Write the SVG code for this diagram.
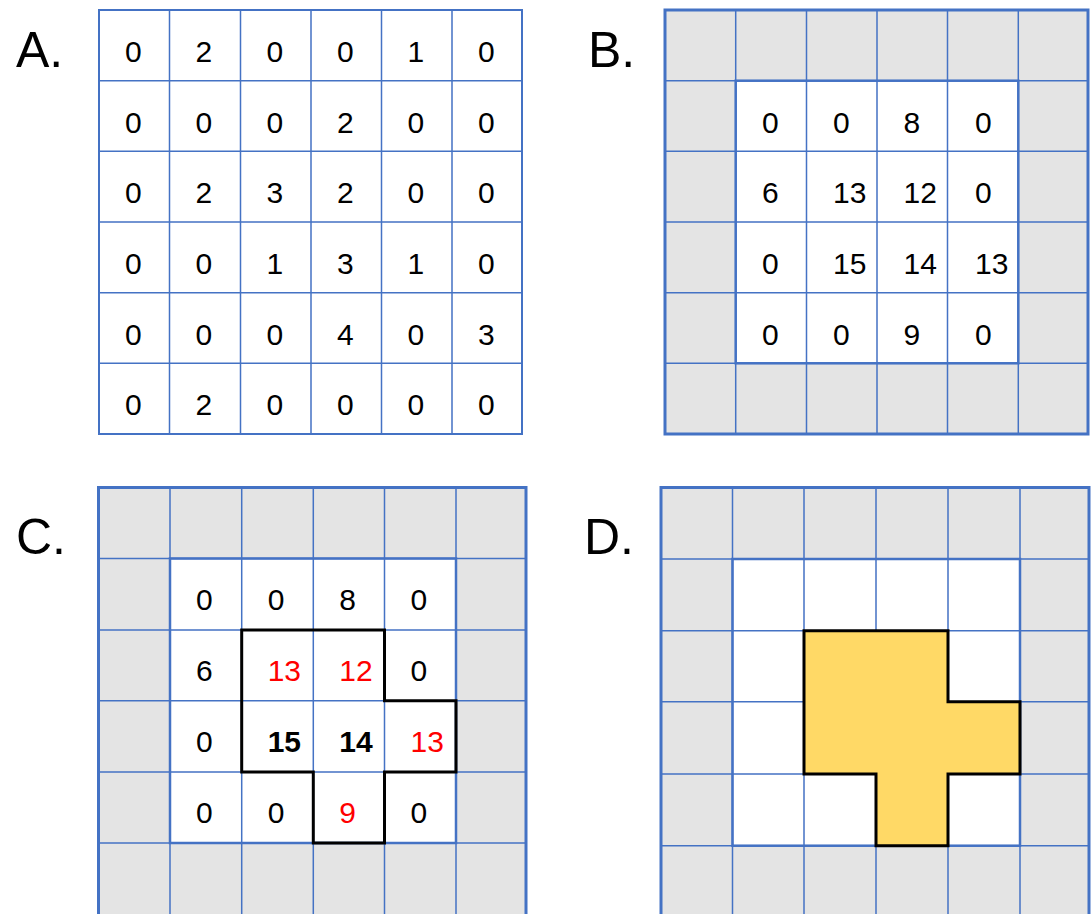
<svg xmlns="http://www.w3.org/2000/svg" width="1092" height="914" viewBox="0 0 1092 914">
<style>
.bg{fill:#ffffff}
.gray{fill:#e4e4e4}
.white{fill:#ffffff}
.grid{stroke:#4472c4;stroke-width:1.5;fill:none}
.outer{stroke:#4472c4;stroke-width:3;fill:none}
.inner{stroke:#4472c4;stroke-width:2.5;fill:none}
.lbl{font-family:"Liberation Sans",Arial,sans-serif;font-size:50px;fill:#000}
.n{font-family:"Liberation Sans",Arial,sans-serif;font-size:30px;fill:#000}
.r{fill:#ff0000}
.b{font-weight:bold}
.shape{stroke:#000;stroke-width:3;stroke-linejoin:miter}
</style>
<rect class="bg" x="0" y="0" width="1092" height="914"/>

<g id="panelA">
<text class="lbl" x="16" y="67">A.</text>
<path class="grid" d="M169.5 10V434M240.5 10V434M311 10V434M381.5 10V434M452 10V434M99 80.7H522M99 151.3H522M99 222H522M99 292.7H522M99 363.3H522"/>
<rect x="99" y="10" width="423" height="424" fill="none" stroke="#4472c4" stroke-width="2"/>
<g class="n">
<text x="125" y="62">0</text><text x="195.5" y="62">2</text><text x="266.5" y="62">0</text><text x="337" y="62">0</text><text x="407.5" y="62">1</text><text x="478" y="62">0</text>
<text x="125" y="132.7">0</text><text x="195.5" y="132.7">0</text><text x="266.5" y="132.7">0</text><text x="337" y="132.7">2</text><text x="407.5" y="132.7">0</text><text x="478" y="132.7">0</text>
<text x="125" y="203.3">0</text><text x="195.5" y="203.3">2</text><text x="266.5" y="203.3">3</text><text x="337" y="203.3">2</text><text x="407.5" y="203.3">0</text><text x="478" y="203.3">0</text>
<text x="125" y="274">0</text><text x="195.5" y="274">0</text><text x="266.5" y="274">1</text><text x="337" y="274">3</text><text x="407.5" y="274">1</text><text x="478" y="274">0</text>
<text x="125" y="344.7">0</text><text x="195.5" y="344.7">0</text><text x="266.5" y="344.7">0</text><text x="337" y="344.7">4</text><text x="407.5" y="344.7">0</text><text x="478" y="344.7">3</text>
<text x="125" y="415.3">0</text><text x="195.5" y="415.3">2</text><text x="266.5" y="415.3">0</text><text x="337" y="415.3">0</text><text x="407.5" y="415.3">0</text><text x="478" y="415.3">0</text>
</g>
</g>

<g id="panelB">
<text class="lbl" x="588" y="67">B.</text>
<rect class="gray" x="665" y="10" width="423" height="424"/>
<rect class="white" x="735.7" y="80.7" width="282.6" height="282.6"/>
<path class="grid" d="M735.7 10V434M806.5 10V434M877 10V434M947.5 10V434M1018.3 10V434M665 80.7H1088M665 151.3H1088M665 222H1088M665 292.7H1088M665 363.3H1088"/>
<rect class="inner" x="735.7" y="80.7" width="282.6" height="282.6"/>
<rect class="outer" x="665" y="10" width="423" height="424"/>
<g class="n">
<text x="762" y="132.7">0</text><text x="833" y="132.7">0</text><text x="903.5" y="132.7">8</text><text x="975" y="132.7">0</text>
<text x="762" y="203.3">6</text><text x="833" y="203.3">13</text><text x="903.5" y="203.3">12</text><text x="975" y="203.3">0</text>
<text x="762" y="274">0</text><text x="833" y="274">15</text><text x="903.5" y="274">14</text><text x="975" y="274">13</text>
<text x="762" y="344.7">0</text><text x="833" y="344.7">0</text><text x="903.5" y="344.7">9</text><text x="975" y="344.7">0</text>
</g>
</g>

<g id="panelC">
<text class="lbl" x="16" y="554">C.</text>
<rect class="gray" x="98.5" y="487.5" width="427.5" height="430"/>
<rect class="white" x="170" y="558.5" width="286" height="284.5"/>
<path class="grid" d="M170 487.5V914M241.7 487.5V914M313.3 487.5V914M384.5 487.5V914M456 487.5V914M98.5 558.5H526M98.5 630H526M98.5 700.7H526M98.5 772H526M98.5 843H526"/>
<rect class="inner" x="170" y="558.5" width="286" height="284.5"/>
<path class="outer" d="M98.5 916V487.5H526V916"/>
<g class="n">
<text x="196" y="610">0</text><text x="267.7" y="610">0</text><text x="339.3" y="610">8</text><text x="410.5" y="610">0</text>
<text x="196" y="680.7">6</text><text class="r" x="267.7" y="680.7">13</text><text class="r" x="339.3" y="680.7">12</text><text x="410.5" y="680.7">0</text>
<text x="196" y="752">0</text><text class="b" x="267.7" y="752">15</text><text class="b" x="339.3" y="752">14</text><text class="r" x="410.5" y="752">13</text>
<text x="196" y="823">0</text><text x="267.7" y="823">0</text><text class="r" x="339.3" y="823">9</text><text x="410.5" y="823">0</text>
</g>
<path class="shape" fill="none" d="M241.7 630H384.5V700.7H456V772H384.5V843H313.3V772H241.7Z"/>
</g>

<g id="panelD">
<text class="lbl" x="584" y="554">D.</text>
<rect class="gray" x="661" y="487.5" width="428" height="430"/>
<rect class="white" x="732.5" y="559" width="287.5" height="286.7"/>
<path class="grid" d="M732.5 487.5V914M804 487.5V914M876 487.5V914M948 487.5V914M1020 487.5V914M661 559H1089M661 630.7H1089M661 701.7H1089M661 774H1089M661 845.7H1089"/>
<rect class="inner" x="732.5" y="559" width="287.5" height="286.7"/>
<path class="outer" d="M661 916V487.5H1089V916"/>
<path class="shape" fill="#ffd966" d="M804 630.7H948V701.7H1020V774H948V845.7H876V774H804Z"/>
</g>
</svg>
